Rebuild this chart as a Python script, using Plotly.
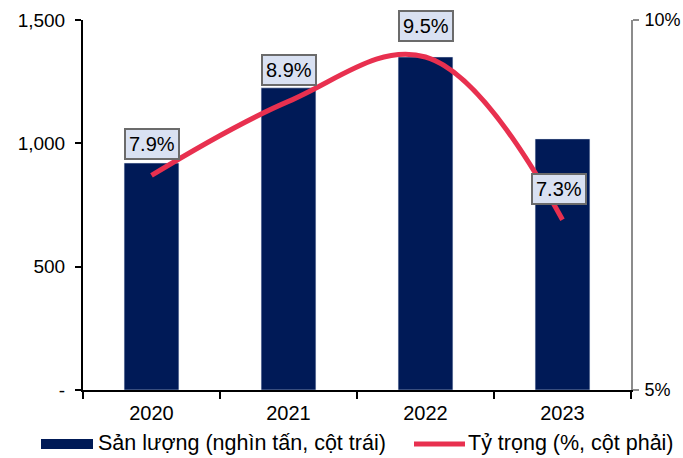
import plotly.graph_objects as go

years = ["2020", "2021", "2022", "2023"]
output_kt = [920, 1225, 1350, 1018]
share_pct = [7.9, 8.9, 9.5, 7.3]
share_labels = ["7.9%", "8.9%", "9.5%", "7.3%"]
left_ticks = [0, 500, 1000, 1500]
left_ticktext = ["-", "500", "1,000", "1,500"]
right_ticks = [5, 10]
right_ticktext = ["5%", "10%"]
legend_bar = "Sản lượng (nghìn tấn, cột trái)"
legend_line = "Tỷ trọng (%, cột phải)"

BAR = "#001A57"
LINE = "#E8304F"
FONT = "Liberation Sans, Arial, sans-serif"

fig = go.Figure()
fig.add_trace(go.Bar(x=years, y=output_kt, marker_color=BAR, width=0.4,
                     name=legend_bar, showlegend=False, yaxis="y"))
fig.add_trace(go.Scatter(x=years, y=share_pct, mode="lines", yaxis="y2",
                         line=dict(color=LINE, width=5, shape="spline", smoothing=1.1),
                         name=legend_line, showlegend=False))

label_xshift = [0, 0, 0, -4]
for i, (v, t) in enumerate(zip(share_pct, share_labels)):
    fig.add_annotation(x=i, y=v, xref="x", yref="y2", text=t, showarrow=False,
                       yshift=31, xshift=label_xshift[i],
                       font=dict(size=20, color="#000", family=FONT),
                       bgcolor="#D9E1F2", bordercolor="#6b6b6b", borderwidth=2,
                       borderpad=3)

# custom legend
fig.add_shape(type="rect", xref="paper", yref="paper",
              x0=(41-83)/548, x1=(93-83)/548, y0=-(439-390)/370, y1=-(449-390)/370,
              fillcolor=BAR, line_width=0)
fig.add_annotation(xref="paper", yref="paper", x=(96-83)/548, y=-(443-390)/370,
                   text=legend_bar, showarrow=False, xanchor="left", yanchor="middle",
                   font=dict(size=21.5, color="#000", family=FONT))
fig.add_shape(type="line", xref="paper", yref="paper",
              x0=(414-83)/548, x1=(465-83)/548, y0=-(444-390)/370, y1=-(444-390)/370,
              line=dict(color=LINE, width=5))
fig.add_annotation(xref="paper", yref="paper", x=(466-83)/548, y=-(443-390)/370,
                   text=legend_line, showarrow=False, xanchor="left", yanchor="middle",
                   font=dict(size=21.5, color="#000", family=FONT))

fig.update_layout(
    width=683, height=458,
    margin=dict(l=83, r=52, t=20, b=68, autoexpand=False),
    paper_bgcolor="white", plot_bgcolor="white",
    font=dict(family=FONT, size=18, color="#000"),
    xaxis=dict(type="category", range=[-0.5, 3.5], showline=True, linecolor="#000",
               linewidth=2, ticks="outside", tickson="boundaries", ticklen=7,
               tickcolor="#000", tickwidth=2, showgrid=False, zeroline=False,
               tickfont=dict(size=20), automargin=False, ticklabelstandoff=4),
    yaxis=dict(range=[0, 1500], tickvals=left_ticks, ticktext=left_ticktext,
               showline=True, linecolor="#000", linewidth=2, ticks="outside",
               ticklen=6, tickwidth=2, tickcolor="#000", showgrid=False, zeroline=False,
               tickfont=dict(size=19), automargin=False, ticklabelstandoff=6),
    yaxis2=dict(range=[5, 10], tickvals=right_ticks, ticktext=right_ticktext,
                overlaying="y", side="right", showline=True, linecolor="#8c8c8c",
                linewidth=2, ticks="outside", ticklen=6, tickwidth=2, tickcolor="#8c8c8c",
                showgrid=False, zeroline=False, tickfont=dict(size=18), automargin=False,
                ticklabelstandoff=2),
)

fig.write_html("out.html", config={"displayModeBar": False},
               post_script="document.body.style.margin='0';")
